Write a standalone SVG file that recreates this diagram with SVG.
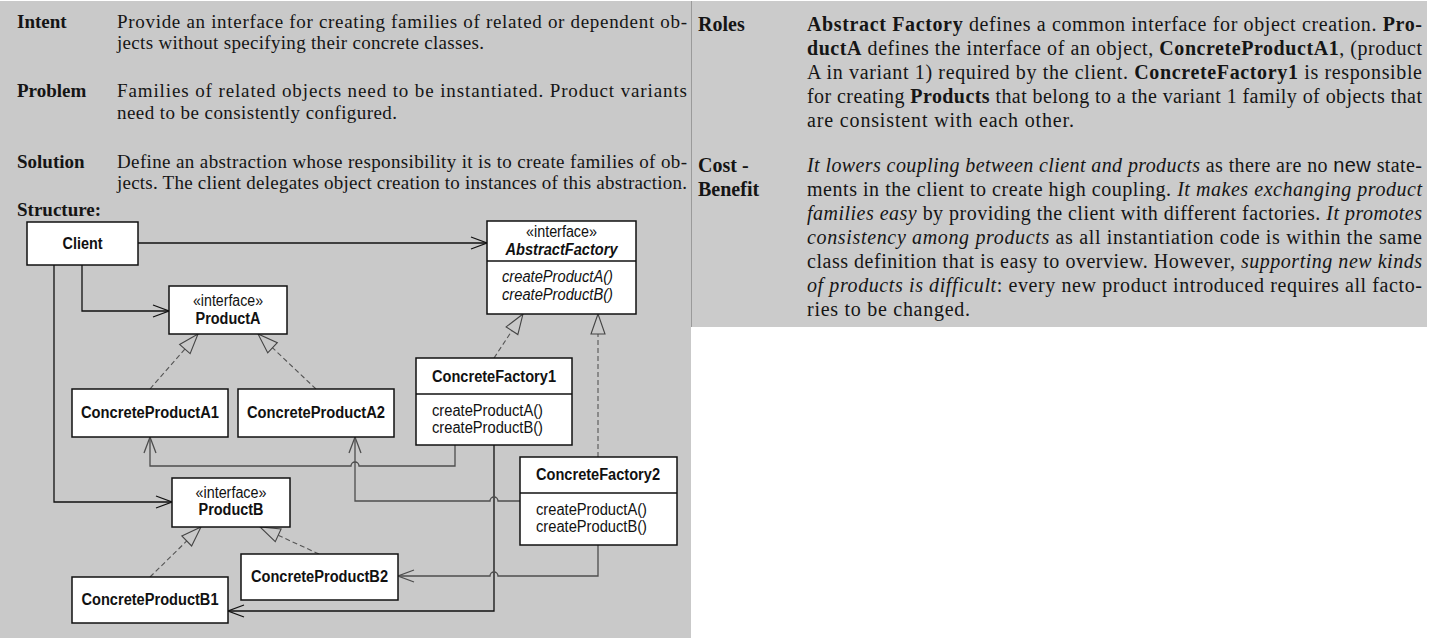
<svg xmlns="http://www.w3.org/2000/svg" width="1437" height="638" viewBox="0 0 1437 638">
<style>
.bg{fill:#c9c9c9}
.bg2{fill:#cbcbcb}
.tl{font-family:"Liberation Serif",serif;font-size:19px;fill:#151515}
.tr{font-family:"Liberation Serif",serif;font-size:20px;fill:#151515}
.b{font-weight:bold}
.i{font-style:italic}
.sans{font-family:"Liberation Sans",sans-serif}
.box{fill:#fff;stroke:#111;stroke-width:1.5}
.dv{stroke:#111;stroke-width:1.3}
.n{font-family:"Liberation Sans",sans-serif;font-size:16px;fill:#111;text-anchor:middle}
.m{font-family:"Liberation Sans",sans-serif;font-size:16px;fill:#111}
.ck{fill:none;stroke:#111;stroke-width:1.3}
.cg{fill:none;stroke:#4d4d4d;stroke-width:1.3}
.cd{fill:none;stroke:#555;stroke-width:1.1;stroke-dasharray:5,3}
</style>
<defs>
<marker id="open-k" markerUnits="userSpaceOnUse" markerWidth="18" markerHeight="14" refX="16" refY="6" orient="auto" overflow="visible">
<path d="M0,0 L16,6 L0,12" fill="none" stroke="#111" stroke-width="1.3"/>
</marker>
<marker id="open-g" markerUnits="userSpaceOnUse" markerWidth="18" markerHeight="14" refX="16" refY="6" orient="auto" overflow="visible">
<path d="M0,0 L16,6 L0,12" fill="none" stroke="#4d4d4d" stroke-width="1.3"/>
</marker>
<marker id="tri" markerUnits="userSpaceOnUse" markerWidth="22" markerHeight="16" refX="20" refY="7" orient="auto" overflow="visible">
<path d="M0,0 L20,7 L0,14 Z" fill="#c9c9c9" stroke="#444" stroke-width="1.1"/>
</marker>
</defs>

<g id="panels">
<rect class="bg" x="0" y="1" width="691" height="637"/>
<rect class="bg2" x="691" y="1" width="736" height="326"/>
<line x1="691.5" y1="1" x2="691.5" y2="327" stroke="#9a9a9a" stroke-width="1"/>
</g>

<g id="left-text">
<text class="tl b" x="17" y="28">Intent</text>
<text class="tl" x="117" y="28" textLength="570" lengthAdjust="spacing">Provide an interface for creating families of related or dependent ob-</text>
<text class="tl" x="117" y="49" textLength="367" lengthAdjust="spacing">jects without specifying their concrete classes.</text>
<text class="tl b" x="17" y="97">Problem</text>
<text class="tl" x="117" y="97" textLength="570" lengthAdjust="spacing">Families of related objects need to be instantiated.  Product variants</text>
<text class="tl" x="117" y="119" textLength="280" lengthAdjust="spacing">need to be consistently configured.</text>
<text class="tl b" x="17" y="168">Solution</text>
<text class="tl" x="117" y="168" textLength="570" lengthAdjust="spacing">Define an abstraction whose responsibility it is to create families of ob-</text>
<text class="tl" x="117" y="189" textLength="570" lengthAdjust="spacing">jects. The client delegates object creation to instances of this abstraction.</text>
<text class="tl b" x="17" y="216">Structure:</text>
</g>

<g id="right-text">
<text class="tr b" x="698" y="31">Roles</text>
<text class="tr" x="807" y="31" textLength="615" lengthAdjust="spacing"><tspan class="b">Abstract Factory</tspan> defines a common interface for object creation.  <tspan class="b">Pro-</tspan></text>
<text class="tr" x="807" y="55" textLength="615" lengthAdjust="spacing"><tspan class="b">ductA</tspan> defines the interface of an object, <tspan class="b">ConcreteProductA1</tspan>, (product</text>
<text class="tr" x="807" y="79" textLength="615" lengthAdjust="spacing">A in variant 1) required by the client.  <tspan class="b">ConcreteFactory1</tspan> is responsible</text>
<text class="tr" x="807" y="103" textLength="615" lengthAdjust="spacing">for creating <tspan class="b">Products</tspan> that belong to a the variant 1 family of objects that</text>
<text class="tr" x="807" y="127" textLength="267" lengthAdjust="spacing">are consistent with each other.</text>
<text class="tr b" x="698" y="172">Cost -</text>
<text class="tr b" x="698" y="196">Benefit</text>
<text class="tr" x="807" y="172" textLength="615" lengthAdjust="spacing"><tspan class="i">It lowers coupling between client and products</tspan> as there are no <tspan class="sans">new</tspan> state-</text>
<text class="tr" x="807" y="196" textLength="615" lengthAdjust="spacing">ments in the client to create high coupling.  <tspan class="i">It makes exchanging product</tspan></text>
<text class="tr" x="807" y="220" textLength="615" lengthAdjust="spacing"><tspan class="i">families easy</tspan> by providing the client with different factories.  <tspan class="i">It promotes</tspan></text>
<text class="tr" x="807" y="244" textLength="615" lengthAdjust="spacing"><tspan class="i">consistency among products</tspan> as all instantiation code is within the same</text>
<text class="tr" x="807" y="268" textLength="615" lengthAdjust="spacing">class definition that is easy to overview. However, <tspan class="i">supporting new kinds</tspan></text>
<text class="tr" x="807" y="292" textLength="615" lengthAdjust="spacing"><tspan class="i">of products is difficult</tspan>: every new product introduced requires all facto-</text>
<text class="tr" x="807" y="316" textLength="163" lengthAdjust="spacing">ries to be changed.</text>
</g>

<g id="connectors">
<path class="ck" d="M138,243 H487" marker-end="url(#open-k)"/>
<path class="ck" d="M82,265 V311 H169" marker-end="url(#open-k)"/>
<path class="ck" d="M54,265 V502 H172" marker-end="url(#open-k)"/>
<path class="cd" d="M150,389 L198,334" marker-end="url(#tri)"/>
<path class="cd" d="M316,389 L258,334" marker-end="url(#tri)"/>
<path class="cd" d="M494,358 L523,314" marker-end="url(#tri)"/>
<path class="cd" d="M598,457 V314" marker-end="url(#tri)"/>
<path class="cd" d="M150,577 L201,527" marker-end="url(#tri)"/>
<path class="cd" d="M319,554 L260,527" marker-end="url(#tri)"/>
<path class="cg" d="M455,445 V466 H359 A4,4 0 0 0 351,466 H150 V437" marker-end="url(#open-g)"/>
<path class="ck" d="M494,445 V611 H228" marker-end="url(#open-k)"/>
<path class="cg" d="M520,501 H498 A4,4 0 0 0 490,501 H355 V437" marker-end="url(#open-g)"/>
<path class="cg" d="M598,545 V576 H498 A4,4 0 0 0 490,576 H398" marker-end="url(#open-g)"/>
</g>

<g id="Client">
<rect class="box" x="27" y="222" width="111" height="43"/>
<text class="n b" x="82.5" y="249" textLength="40" lengthAdjust="spacingAndGlyphs">Client</text>
</g>

<g id="AbstractFactory">
<rect class="box" x="487" y="221" width="149" height="93"/>
<line class="dv" x1="487" y1="261" x2="636" y2="261"/>
<text class="n" x="561.5" y="237" textLength="71" lengthAdjust="spacingAndGlyphs">«interface»</text>
<text class="n b i" x="561.5" y="255" textLength="112" lengthAdjust="spacingAndGlyphs">AbstractFactory</text>
<text class="m i" x="502" y="282" textLength="111" lengthAdjust="spacingAndGlyphs">createProductA()</text>
<text class="m i" x="502" y="300" textLength="111" lengthAdjust="spacingAndGlyphs">createProductB()</text>
</g>

<g id="ProductA">
<rect class="box" x="169" y="286" width="118" height="48"/>
<text class="n" x="228" y="306" textLength="70" lengthAdjust="spacingAndGlyphs">«interface»</text>
<text class="n b" x="228" y="324" textLength="65" lengthAdjust="spacingAndGlyphs">ProductA</text>
</g>

<g id="ConcreteProductA1">
<rect class="box" x="72" y="389" width="156" height="48"/>
<text class="n b" x="150" y="418" textLength="138" lengthAdjust="spacingAndGlyphs">ConcreteProductA1</text>
</g>

<g id="ConcreteProductA2">
<rect class="box" x="238" y="389" width="156" height="48"/>
<text class="n b" x="316" y="418" textLength="138" lengthAdjust="spacingAndGlyphs">ConcreteProductA2</text>
</g>

<g id="ConcreteFactory1">
<rect class="box" x="416" y="358" width="156" height="87"/>
<line class="dv" x1="416" y1="394" x2="572" y2="394"/>
<text class="n b" x="494" y="382" textLength="124" lengthAdjust="spacingAndGlyphs">ConcreteFactory1</text>
<text class="m" x="432" y="416" textLength="111" lengthAdjust="spacingAndGlyphs">createProductA()</text>
<text class="m" x="432" y="433" textLength="111" lengthAdjust="spacingAndGlyphs">createProductB()</text>
</g>

<g id="ConcreteFactory2">
<rect class="box" x="520" y="457" width="157" height="88"/>
<line class="dv" x1="520" y1="493" x2="677" y2="493"/>
<text class="n b" x="598" y="480" textLength="124" lengthAdjust="spacingAndGlyphs">ConcreteFactory2</text>
<text class="m" x="536" y="515" textLength="111" lengthAdjust="spacingAndGlyphs">createProductA()</text>
<text class="m" x="536" y="532" textLength="111" lengthAdjust="spacingAndGlyphs">createProductB()</text>
</g>

<g id="ProductB">
<rect class="box" x="172" y="478" width="118" height="49"/>
<text class="n" x="231" y="498" textLength="71" lengthAdjust="spacingAndGlyphs">«interface»</text>
<text class="n b" x="231" y="515" textLength="65" lengthAdjust="spacingAndGlyphs">ProductB</text>
</g>

<g id="ConcreteProductB2">
<rect class="box" x="241" y="554" width="157" height="46"/>
<text class="n b" x="319.5" y="582" textLength="137" lengthAdjust="spacingAndGlyphs">ConcreteProductB2</text>
</g>

<g id="ConcreteProductB1">
<rect class="box" x="72" y="577" width="156" height="46"/>
<text class="n b" x="150" y="605" textLength="137" lengthAdjust="spacingAndGlyphs">ConcreteProductB1</text>
</g>
</svg>
